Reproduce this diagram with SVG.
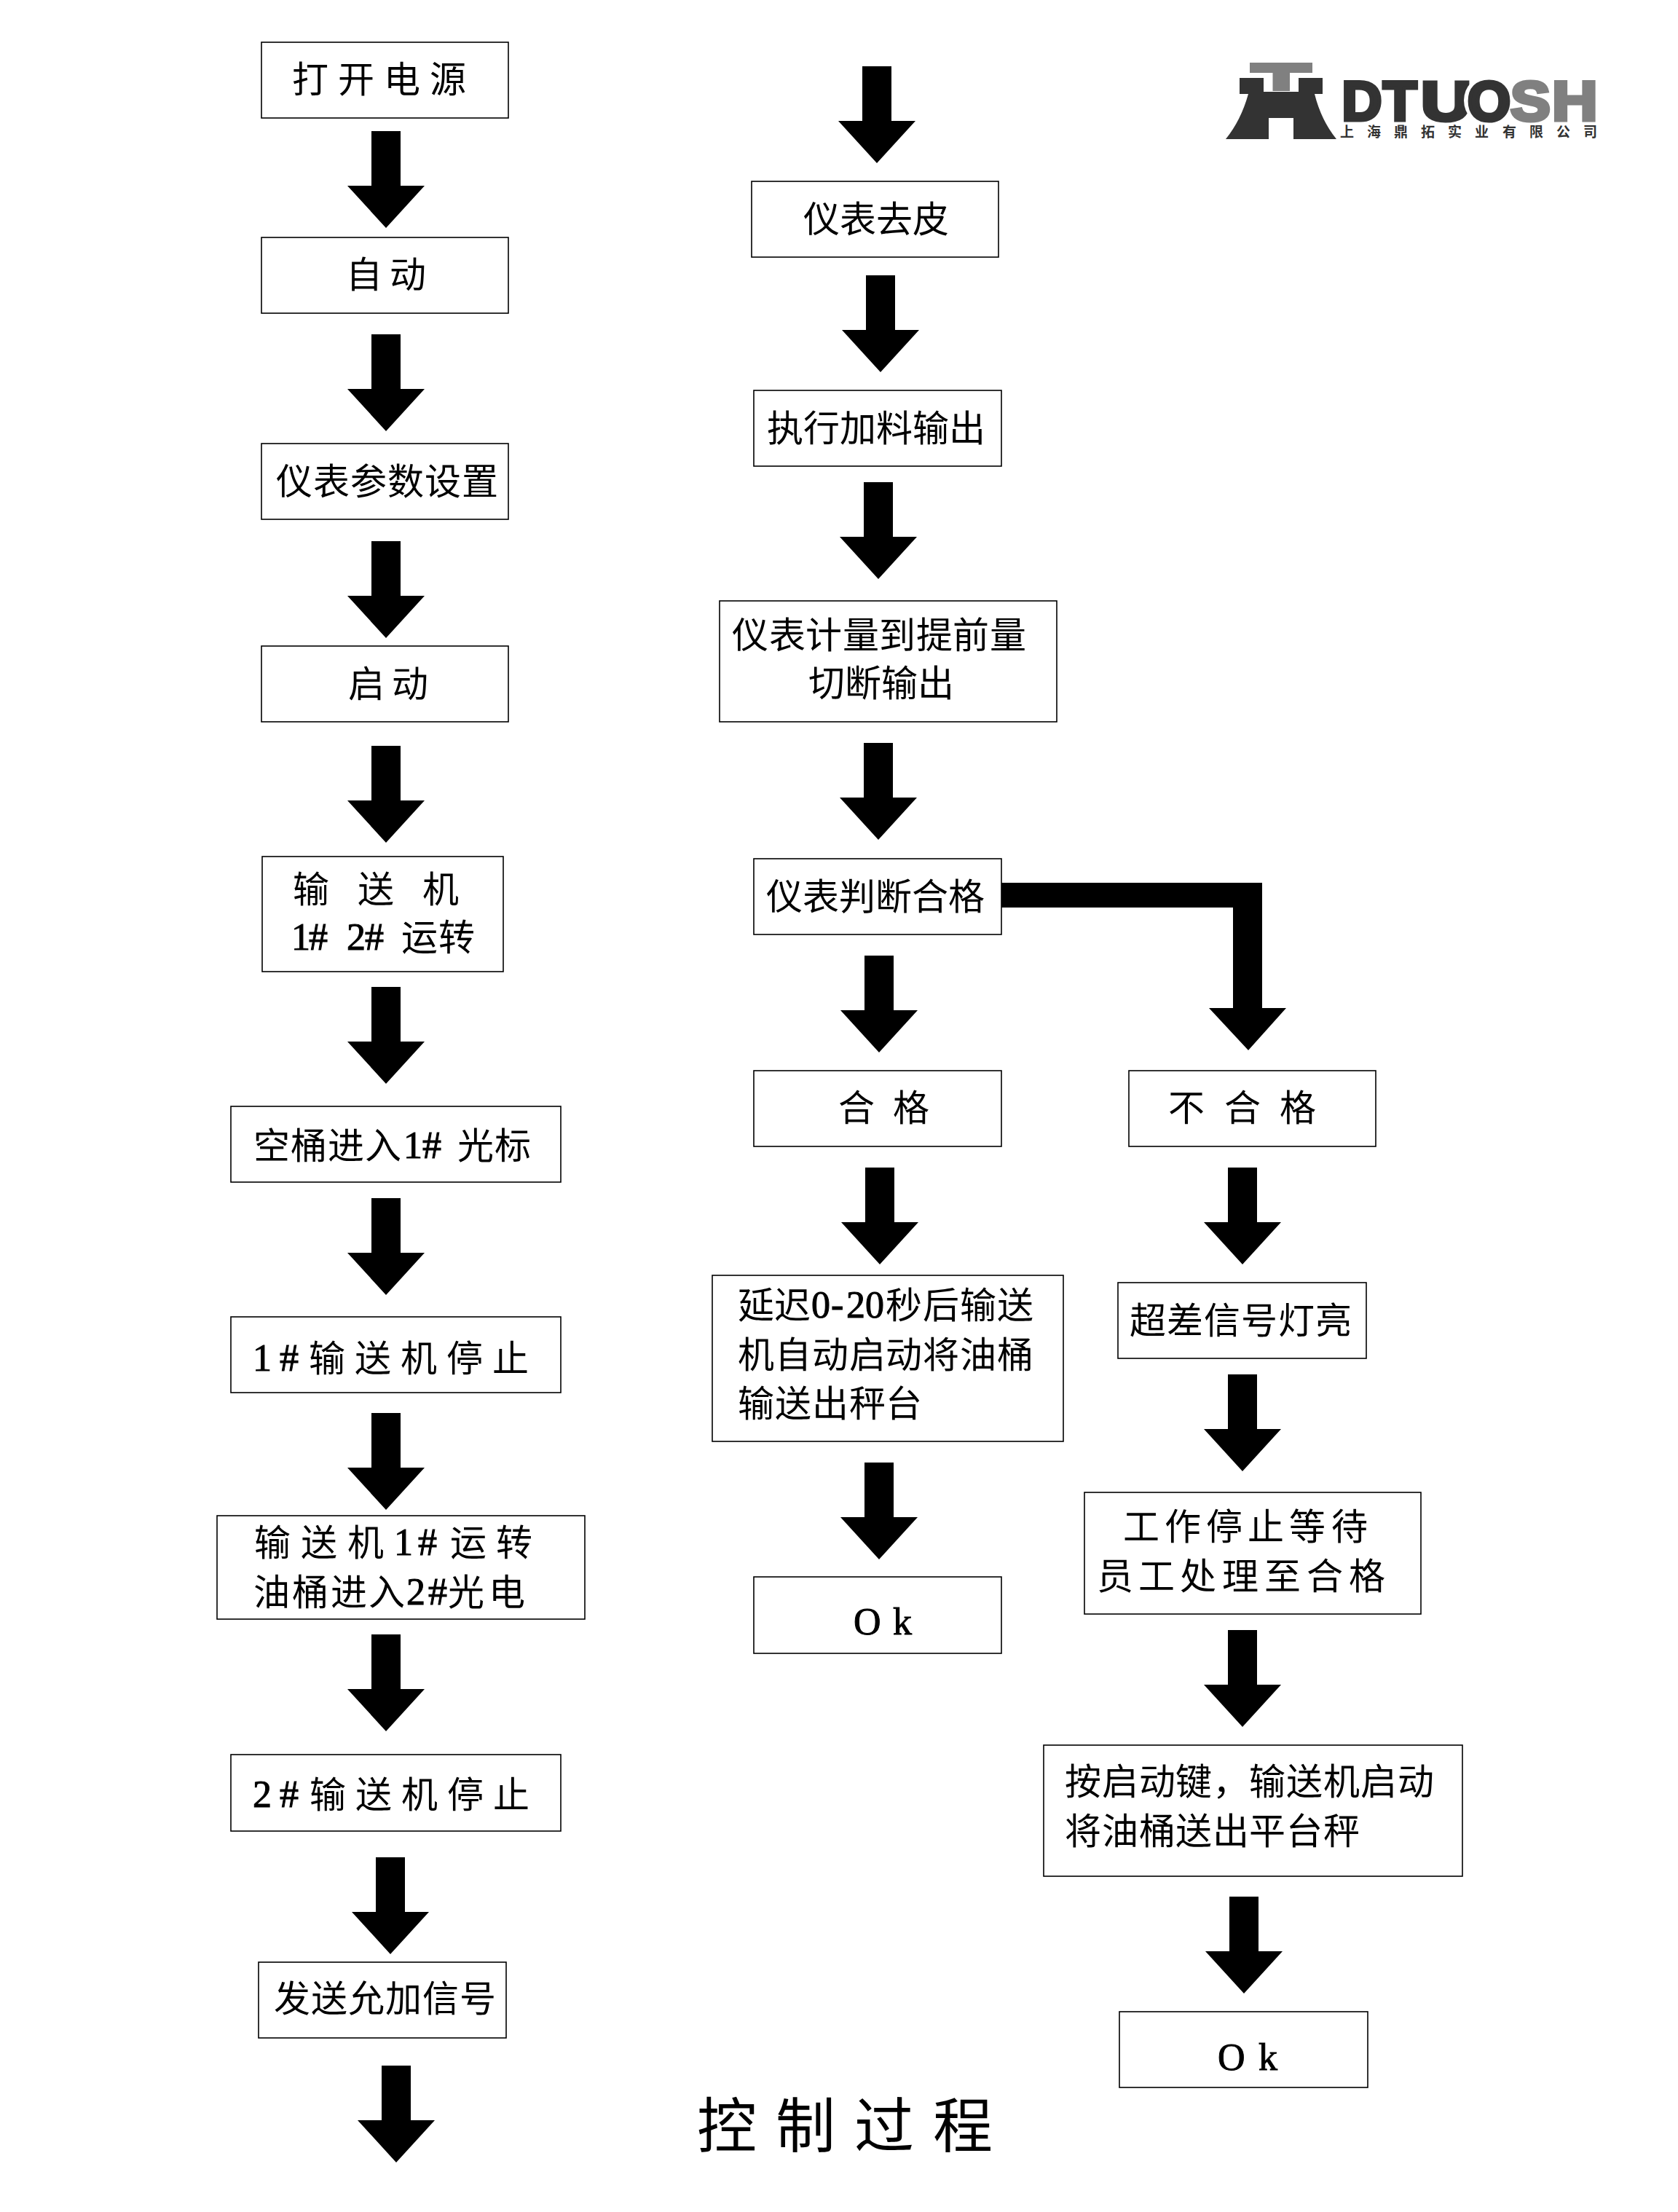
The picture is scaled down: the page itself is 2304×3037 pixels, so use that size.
<svg xmlns="http://www.w3.org/2000/svg" width="2304" height="3037" viewBox="0 0 2304 3037">
  <style>
    .box { fill: #fff; stroke: #000; stroke-width: 1.6; }
    .t { font-family: "Noto Sans CJK SC", "Noto Sans CJK JP", "Liberation Serif", serif; font-size: 50px; fill: #000; }
    .l { font-family: "Liberation Serif", "Noto Sans CJK SC", serif; font-size: 52px; fill: #000; stroke: #000; stroke-width: 1; }
    .title { font-family: "Noto Sans CJK SC", serif; font-size: 82px; fill: #000; }
    .brand { font-family: "Liberation Sans", sans-serif; font-weight: 700; font-size: 76px; stroke-width: 5; stroke-linejoin: miter; }
    .dark { fill: #333; stroke: #333; }
    .grey { fill: #808080; stroke: #808080; }
    .cn { font-family: "Noto Sans CJK SC", sans-serif; font-weight: 700; font-size: 19px; fill: #333; }
  </style>
  <defs>
    <!-- block arrow, origin at the middle of the shaft's top edge -->
    <polygon id="arrow" points="-20,0 20,0 20,75 53,75 0,133 -53,75 -20,75" fill="#000"/>
  </defs>
  <rect width="2304" height="3037" fill="#fff"/>

  <g id="connectors">
    <use href="#arrow" x="530" y="180"/>
    <use href="#arrow" x="530" y="459"/>
    <use href="#arrow" x="530" y="743"/>
    <use href="#arrow" x="530" y="1024"/>
    <use href="#arrow" x="530" y="1355"/>
    <use href="#arrow" x="530" y="1645"/>
    <use href="#arrow" x="530" y="1940"/>
    <use href="#arrow" x="530" y="2244"/>
    <use href="#arrow" x="536" y="2550"/>
    <use href="#arrow" x="544" y="2836"/>
    <use href="#arrow" x="1204" y="91"/>
    <use href="#arrow" x="1209" y="378"/>
    <use href="#arrow" x="1206" y="662"/>
    <use href="#arrow" x="1206" y="1020"/>
    <use href="#arrow" x="1207" y="1312"/>
    <use href="#arrow" x="1208" y="1603"/>
    <use href="#arrow" x="1207" y="2008"/>
    <use href="#arrow" x="1706" y="1603"/>
    <use href="#arrow" x="1706" y="1887"/>
    <use href="#arrow" x="1706" y="2238"/>
    <use href="#arrow" x="1708" y="2604"/>
    <!-- reject branch leaving the judgement box -->
    <polygon id="reject-branch" points="1375,1212 1733,1212 1733,1384 1766,1384 1714,1442 1660,1384 1693,1384 1693,1246 1375,1246" fill="#000"/>
  </g>

  <g id="n-power"><rect class="box" x="359" y="58" width="339" height="104"/><text class="t" y="127" x="401 464 527 590">打开电源</text></g>
  <g id="n-auto"><rect class="box" x="359" y="326" width="339" height="104"/><text class="t" y="395" x="475 535">自动</text></g>
  <g id="n-params"><rect class="box" x="359" y="609" width="339" height="104"/><text class="t" y="679" x="379 430 481 532 583 634">仪表参数设置</text></g>
  <g id="n-start"><rect class="box" x="359" y="887" width="339" height="104"/><text class="t" y="957" x="478 538">启动</text></g>
  <g id="n-conveyors"><rect class="box" x="360" y="1176" width="331" height="158"/><text class="t" y="1239" x="402 491 580">输送机</text><text class="l" y="1304" x="400 424 476 501">1#2#</text><text class="t" y="1305" x="551 602">运转</text></g>
  <g id="n-empty"><rect class="box" x="317" y="1519" width="453" height="104"/><text class="t" y="1591" x="348 399 450 501">空桶进入</text><text class="l" y="1590" x="554 580">1#</text><text class="t" y="1591" x="628 679">光标</text></g>
  <g id="n-stop1"><rect class="box" x="317" y="1808" width="453" height="104"/><text class="l" y="1882" x="347 384">1#</text><text class="t" y="1883" x="424 487 550 613 676">输送机停止</text></g>
  <g id="n-run1"><rect class="box" x="298" y="2081" width="505" height="142"/><text class="t" y="2136" x="349 413 477">输送机</text><text class="l" y="2135" x="541 574">1#</text><text class="t" y="2136" x="618 681">运转</text><text class="t" y="2204" x="348 401 454 506">油桶进入</text><text class="l" y="2203" x="558 588">2#</text><text class="t" y="2204" x="615 671">光电</text></g>
  <g id="n-stop2"><rect class="box" x="317" y="2409" width="453" height="105"/><text class="l" y="2481" x="347 384">2#</text><text class="t" y="2482" x="425 488 551 614 677">输送机停止</text></g>
  <g id="n-permit"><rect class="box" x="355" y="2694" width="340" height="104"/><text class="t" y="2762" x="376 427 478 529 580 631">发送允加信号</text></g>

  <g id="n-tare"><rect class="box" x="1032" y="249" width="339" height="104"/><text class="t" y="319" x="1103 1153 1203 1253">仪表去皮</text></g>
  <g id="n-feed"><rect class="box" x="1035" y="536" width="340" height="104"/><text class="t" y="606" x="1053 1103 1153 1203 1253 1303">执行加料输出</text></g>
  <g id="n-meter"><rect class="box" x="988" y="825" width="463" height="166"/><text class="t" y="890" x="1005 1056 1106 1157 1207 1258 1308 1359">仪表计量到提前量</text><text class="t" y="956" x="1110 1160 1210 1260">切断输出</text></g>
  <g id="n-judge"><rect class="box" x="1035" y="1179" width="340" height="104"/><text class="t" y="1249" x="1052 1102 1152 1202 1252 1302">仪表判断合格</text></g>
  <g id="n-pass"><rect class="box" x="1035" y="1470" width="340" height="104"/><text class="t" y="1539" x="1151 1226">合格</text></g>
  <g id="n-fail"><rect class="box" x="1550" y="1470" width="339" height="104"/><text class="t" y="1539" x="1604 1681 1757">不合格</text></g>
  <g id="n-delay"><rect class="box" x="978" y="1751" width="482" height="228"/><text class="t" y="1810" x="1013 1063">延迟</text><text class="l" y="1809" x="1114 1141 1162 1188">0-20</text><text class="t" y="1810" x="1216 1267 1318 1369">秒后输送</text><text class="t" y="1878" x="1013 1064 1115 1166 1216 1267 1318 1369">机自动启动将油桶</text><text class="t" y="1945" x="1013 1064 1115 1166 1216">输送出秤台</text></g>
  <g id="n-ok-pass"><rect class="box" x="1035" y="2165" width="340" height="105"/><text class="l" y="2244" x="1172 1226">Ok</text></g>

  <g id="n-alarm"><rect class="box" x="1535" y="1761" width="341" height="104"/><text class="t" y="1831" x="1551 1602 1653 1704 1755 1806">超差信号灯亮</text></g>
  <g id="n-wait"><rect class="box" x="1489" y="2049" width="462" height="167"/><text class="t" y="2114" x="1542 1599 1656 1713 1770 1828">工作停止等待</text><text class="t" y="2182" x="1506 1563 1620 1678 1736 1794 1852">员工处理至合格</text></g>
  <g id="n-restart"><rect class="box" x="1433" y="2396" width="575" height="180"/><text class="t" y="2464" x="1462 1513 1564 1614 1665 1715 1766 1817 1868 1919">按启动键，输送机启动</text><text class="t" y="2532" x="1462 1513 1564 1614 1665 1715 1766 1817">将油桶送出平台秤</text></g>
  <g id="n-ok-fail"><rect class="box" x="1537" y="2762" width="341" height="104"/><text class="l" y="2842" x="1672 1728">Ok</text></g>

  <g id="title"><text class="title" y="2948" x="957 1065 1173 1281">控制过程</text></g>

  <g id="logo">
    <path d="M1702,107 H1735 V126 H1783 V107 H1816 V129 H1805 Q1814,165 1835,191 H1776 V162 H1742 V191 H1683 Q1704,165 1714,129 H1702 Z" fill="#333"/>
    <path d="M1716,86 H1802 V100 H1771 V125 H1747.5 V100 H1716 Z" fill="#808080"/>
    <text class="brand dark" y="165" x="1842.5 1899">DT</text>
    <text class="brand dark" y="165" transform="translate(1951 0) scale(1.26 1)">U</text>
    <!-- white ring that separates the O from the U -->
    <ellipse cx="2044" cy="138" rx="34" ry="35" fill="#fff"/>
    <text class="brand dark" y="165" x="2015">O</text>
    <text class="brand grey" y="165" transform="translate(2074 0) scale(1.08 1)">S</text>
    <text class="brand grey" y="165" transform="translate(2131 0) scale(1.14 1)">H</text>
    <text class="cn" y="188" x="1840 1877 1914 1951 1988 2025 2063 2100 2137 2174">上海鼎拓实业有限公司</text>
  </g>
</svg>
